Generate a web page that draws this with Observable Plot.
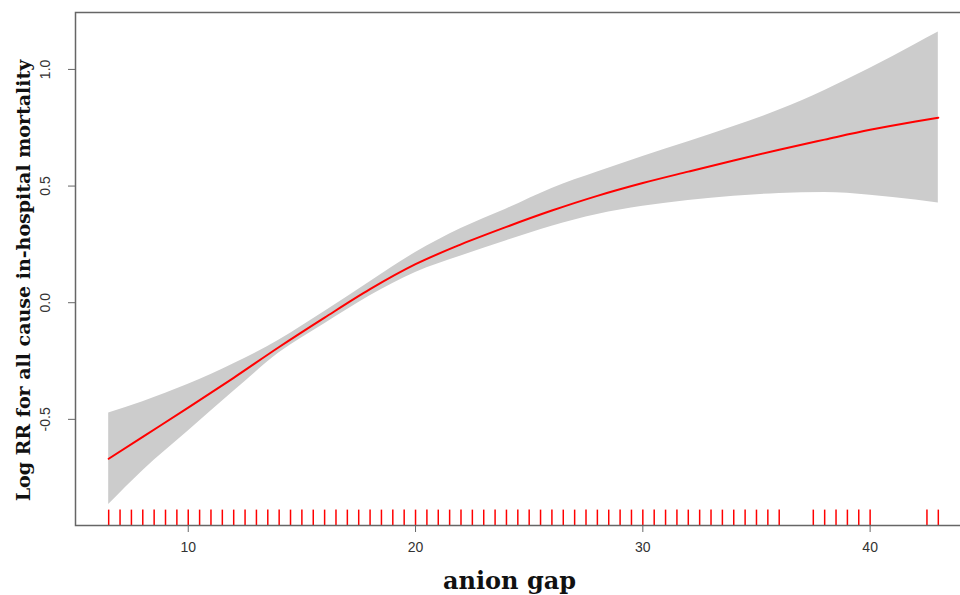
<!DOCTYPE html>
<html>
<head>
<meta charset="utf-8">
<script src="https://cdn.jsdelivr.net/npm/d3@7"></script>
<script src="https://cdn.jsdelivr.net/npm/@observablehq/plot@0.6"></script>
<style>
  html, body { margin: 0; padding: 0; background: #fff; overflow: hidden; width: 960px; height: 595px; }
  #chart { width: 975px; }
</style>
</head>
<body>
<div id="chart"></div>
<script>
// anion gap values (x) at which the spline estimate is read
const gap = [6.5, 8, 10, 12, 14, 16, 18, 20, 22, 24, 26, 28, 30, 32, 34, 36, 38, 40, 42, 43];
// fitted log RR
const fit = [-0.669, -0.575, -0.450, -0.322, -0.190, -0.064, 0.058, 0.165, 0.250, 0.325, 0.395, 0.458, 0.513, 0.562, 0.610, 0.656, 0.699, 0.741, 0.777, 0.793];
// 95% CI upper bound
const upper = [-0.473, -0.425, -0.350, -0.262, -0.160, -0.038, 0.090, 0.215, 0.318, 0.402, 0.490, 0.560, 0.627, 0.690, 0.755, 0.826, 0.910, 1.005, 1.108, 1.160];
// 95% CI lower bound
const lower = [-0.865, -0.720, -0.550, -0.380, -0.215, -0.090, 0.030, 0.130, 0.200, 0.266, 0.328, 0.378, 0.413, 0.438, 0.456, 0.468, 0.472, 0.461, 0.440, 0.427];
// rug: observed anion gap values
const rug = [6.5, 7, 7.5, 8, 8.5, 9, 9.5, 10, 10.5, 11, 11.5, 12, 12.5, 13, 13.5, 14, 14.5, 15, 15.5, 16, 16.5, 17, 17.5, 18, 18.5, 19, 19.5, 20, 20.5, 21, 21.5, 22, 22.5, 23, 23.5, 24, 24.5, 25, 25.5, 26, 26.5, 27, 27.5, 28, 28.5, 29, 29.5, 30, 30.5, 31, 31.5, 32, 32.5, 33, 33.5, 34, 34.5, 35, 35.5, 36, 37.5, 38, 38.5, 39, 39.5, 40, 42.5, 43];
// axis ticks
const xTicks = [10, 20, 30, 40];
const yTicks = [-0.5, 0.0, 0.5, 1.0];
const xTitle = "anion gap";
const yTitle = "Log RR for all cause in-hospital mortality";

const data = gap.map((g, i) => ({gap: g, fit: fit[i], upper: upper[i], lower: lower[i]}));

// R-style 4% padded domains
const xDomain = [5.04, 44.46];
const yDomain = [-0.955, 1.244];
const rugTop = yDomain[0] + 0.03 * (yDomain[1] - yDomain[0]);

const chart = Plot.plot({
  width: 975,
  height: 595,
  marginLeft: 75,
  marginRight: 4,
  marginTop: 12,
  marginBottom: 70,
  style: {fontFamily: "'Liberation Sans', Arial, sans-serif", fontSize: "14px", color: "#333", background: "#fff"},
  x: {domain: xDomain},
  y: {domain: yDomain},
  marks: [
    Plot.areaY(data, {x: "gap", y1: "lower", y2: "upper", fill: "#cccccc", curve: "monotone-x"}),
    Plot.lineY(data, {x: "gap", y: "fit", stroke: "#ff0000", strokeWidth: 2, curve: "monotone-x"}),
    Plot.ruleX(rug, {x: d => d, y1: yDomain[0], y2: rugTop, stroke: "#ff0000", strokeWidth: 1.5}),
    Plot.frame({stroke: "#666", strokeWidth: 1.5}),
    Plot.axisX({ticks: xTicks, tickSize: 7, tickPadding: 10, fontSize: 14, label: null, stroke: "#666"}),
    Plot.axisY({ticks: yTicks, tickSize: 7, tickPadding: 19, tickRotate: -90, fontSize: 14, label: null, stroke: "#666", tickFormat: d => d.toFixed(1)}),
    Plot.text([xTitle], {frameAnchor: "bottom", textAnchor: "middle", dx: -14, dy: 63, text: d => d, fontFamily: "'DejaVu Serif', serif", fontWeight: "bold", fontSize: 24, fill: "#111"}),
    Plot.text([yTitle], {frameAnchor: "left", textAnchor: "middle", rotate: -90, dx: -52, dy: 11.5, text: d => d, fontFamily: "'DejaVu Serif', serif", fontWeight: "bold", fontSize: 19, fill: "#111"})
  ]
});
document.getElementById("chart").appendChild(chart);
</script>
</body>
</html>
